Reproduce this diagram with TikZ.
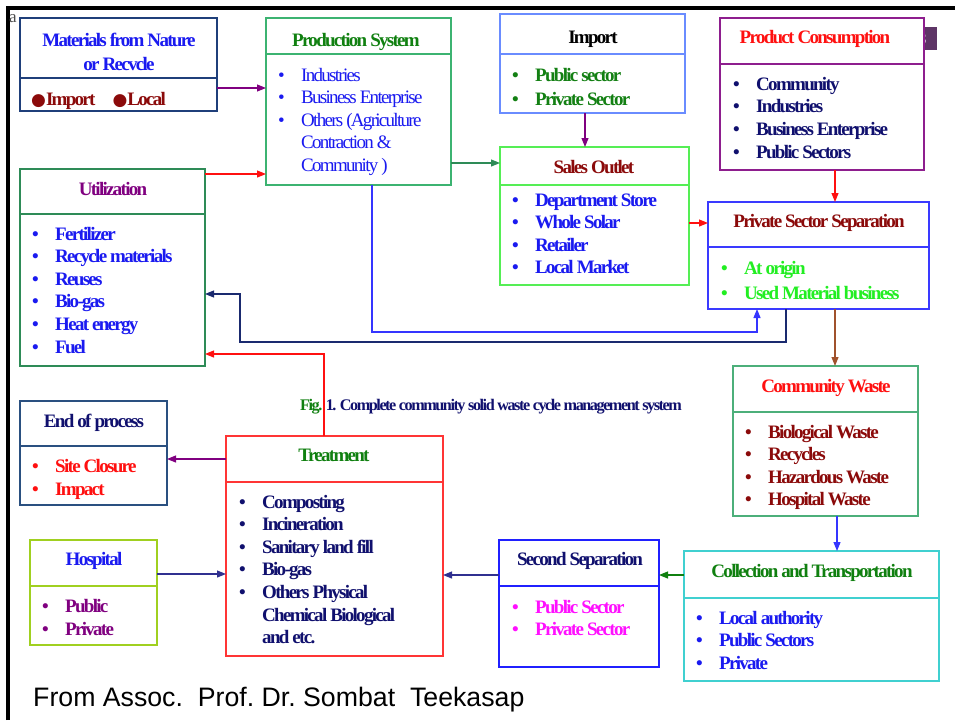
\documentclass[tikz,border=0pt]{standalone}
\usepackage{fontspec}
\setmainfont{Liberation Serif}[LetterSpace=-9]
\newfontfamily\arialf{Liberation Sans}
\newfontfamily\djv{DejaVu Sans}
\usetikzlibrary{arrows.meta}
\definecolor{cMat}{HTML}{1F3F7A}
\definecolor{cBlue}{HTML}{1A1AF0}
\definecolor{cDRed}{HTML}{8B0A0A}
\definecolor{cPurple}{HTML}{800080}
\definecolor{cProd}{HTML}{3CB371}
\definecolor{cDGreen}{HTML}{108010}
\definecolor{cImp}{HTML}{6A8CFF}
\definecolor{cGreen}{HTML}{138013}
\definecolor{cSal}{HTML}{55EE55}
\definecolor{cPC}{HTML}{8E1E8E}
\definecolor{cNavy}{HTML}{10106E}
\definecolor{cPSS}{HTML}{3A3AFF}
\definecolor{cLGreen}{HTML}{22EE22}
\definecolor{cUti}{HTML}{2E8B57}
\definecolor{cCW}{HTML}{4CAF7A}
\definecolor{cCol}{HTML}{40D0D0}
\definecolor{cSS}{HTML}{2020FF}
\definecolor{cMag}{HTML}{FF10FF}
\definecolor{cTre}{HTML}{FF3535}
\definecolor{cEop}{HTML}{2A5080}
\definecolor{cHos}{HTML}{A0D020}
\definecolor{cSlide}{HTML}{5E3566}
\definecolor{cRed}{HTML}{FF1010}
\definecolor{cArrNavy}{HTML}{303090}
\definecolor{cBrown}{HTML}{A0522D}
\definecolor{cArrBlue}{HTML}{3535FF}
\definecolor{cNavyLine}{HTML}{1A2A6F}
\definecolor{cSeaArr}{HTML}{2E8B57}
\tikzset{
  hdr/.style={draw=#1, line width=1.2pt, anchor=north west, inner sep=0pt, outer sep=0pt, fill=white},
  ttl/.style={anchor=base, inner sep=0pt, font=\fontsize{19}{23}\selectfont\bfseries},
  itm/.style={anchor=base west, inner sep=0pt, font=\fontsize{19}{22}\selectfont\bfseries},
  arr/.style={line width=1.1pt, -{Triangle[length=9pt,width=7pt]}},
}
\newcommand\bl{\makebox[23pt][l]{\textbullet}}
\newcommand\nb{\hspace*{23pt}}
\newcommand\boxx[7]{%
  \node[hdr=#2, minimum width={#5-#3}, minimum height={#6-#4}] (#1-h) at (#3,#4) {};
  \node[hdr=#2, minimum width={#5-#3}, minimum height={#7-#6}] (#1) at (#3,#6) {};}
\newcommand\itemlist[6][]{%
  \foreach \t [count=\i] in {#6}{\node[itm,#1] (#2-\i) at (#3,{#4+(\i-1)*#5}) {\t};}}
\begin{document}
\begin{tikzpicture}[x=1pt,y=-1pt]
\useasboundingbox (0,0) rectangle (955,720);
\fill[white] (0,0) rectangle (955,720);
% frame
\draw[line width=3.5pt] (8,720) -- (8,8) -- (955,8);
\node[anchor=base west, inner sep=0pt, text=black!70, font=\fontsize{17}{17}\selectfont\addfontfeature{LetterSpace=0}] (a) at (9,22) {a};
% slide number tab
\fill[cSlide] (917,27) rectangle (937,50);
\node[inner sep=0pt, text=white, font=\arialf\fontsize{16}{16}\selectfont] (slide) at (922,38.5) {3};
% boxes
\boxx{mat}{cMat}{20}{18}{217}{78}{111}
\boxx{prod}{cProd}{266}{18}{451}{54}{185}
\boxx{imp}{cImp}{500}{14}{685}{54}{113}
\boxx{sal}{cSal}{500}{147}{689}{185}{285}
\boxx{pc}{cPC}{720}{18}{924}{64}{170}
\boxx{pss}{cPSS}{708}{202}{929}{247}{309}
\boxx{uti}{cUti}{20}{169}{205}{214}{366}
\boxx{cw}{cCW}{733}{366}{918}{412}{516}
\boxx{col}{cCol}{684}{551}{939}{598}{681}
\boxx{ss}{cSS}{499}{540}{659}{586}{667}
\boxx{tre}{cTre}{226}{436}{443}{482}{656}
\boxx{eop}{cEop}{20}{401}{167}{446}{505}
\boxx{hos}{cHos}{30}{540}{157}{586}{645}
% titles
\node[ttl, text=cBlue] (mat-t1) at (119,46) {Materials from Nature};
\node[ttl, text=cBlue] (mat-t2) at (119,70) {or Recvcle};
\node[ttl, text=cDGreen] (prod-t) at (356,46) {Production System};
\node[ttl, text=black] (imp-t) at (593,43) {Import};
\node[ttl, text=cDRed] (sal-t) at (594,173) {Sales Outlet};
\node[ttl, text=cRed] (pc-t) at (815,43) {Product Consumption};
\node[ttl, text=cDRed] (pss-t) at (819,227) {Private Sector Separation};
\node[ttl, text=cPurple] (uti-t) at (113,195) {Utilization};
\node[ttl, text=cRed] (cw-t) at (826,392) {Community Waste};
\node[ttl, text=cDGreen] (col-t) at (812,577) {Collection and Transportation};
\node[ttl, text=cNavy] (ss-t) at (580,565) {Second Separation};
\node[ttl, text=cDGreen] (tre-t) at (334,461) {Treatment};
\node[ttl, text=cNavy] (eop-t) at (94,427) {End of process};
\node[ttl, text=cBlue] (hos-t) at (94,565) {Hospital};
% items
\node[itm, text=cDRed] (mat-1) at (31,105) {{\djv\fontsize{17}{17}\selectfont ●}Import\hspace{17pt}{\djv\fontsize{17}{17}\selectfont ●}Local};
\itemlist[text=cBlue,font=\fontsize{19}{22}\selectfont]{prod}{278}{81}{22.5}{\bl Industries,\bl Business Enterprise,\bl Others (Agriculture,\nb Contraction \&,\nb Community )}
\itemlist[text=cGreen]{imp}{512}{81}{24.7}{\bl Public sector,\bl Private Sector}
\itemlist[text=cBlue]{sal}{512}{206}{22.6}{\bl Department Store,\bl Whole Solar,\bl Retailer,\bl Local Market}
\itemlist[text=cNavy]{pc}{733}{90}{22.7}{\bl Community,\bl Industries,\bl Business Enterprise,\bl Public Sectors}
\itemlist[text=cLGreen]{pss}{721}{274}{25}{\bl At origin,\bl Used Material business}
\itemlist[text=cBlue]{uti}{32}{240}{22.6}{\bl Fertilizer,\bl Recycle materials,\bl Reuses,\bl Bio-gas,\bl Heat energy,\bl Fuel}
\itemlist[text=cDRed]{cw}{745}{438}{22.6}{\bl Biological Waste,\bl Recycles,\bl Hazardous Waste,\bl Hospital Waste}
\itemlist[text=cBlue]{col}{696}{624}{22.6}{\bl Local authority,\bl Public Sectors,\bl Private}
\itemlist[text=cMag]{ss}{512}{613}{22}{\bl Public Sector,\bl Private Sector}
\itemlist[text=cNavy]{tre}{239}{508}{22.6}{\bl Composting,\bl Incineration,\bl Sanitary land fill,\bl Bio-gas,\bl Others Physical,\nb Chemical Biological,\nb and etc.}
\itemlist[text=cRed]{eop}{32}{472}{23}{\bl Site Closure,\bl Impact}
\itemlist[text=cPurple]{hos}{42}{612}{23}{\bl Public,\bl Private}
% caption
\node[anchor=base west, inner sep=0pt, font=\fontsize{16.2}{16}\selectfont\bfseries] (cap) at (300,410) {\textcolor{cDGreen}{Fig.} \textcolor{cNavy}{1. Complete community solid waste cycle management system}};
% footer
\node[anchor=base west, inner sep=0pt, font=\arialf\fontsize{26.7}{27}\selectfont\frenchspacing] (foot) at (33,706) {From Assoc.\ \ Prof. Dr. Sombat\ \ Teekasap};
% connectors
\draw[arr, cPurple] (mat.east |- 0,88) -- (prod.west |- 0,88);
\draw[arr, cRed] (uti-h.east |- 0,174) -- (prod.west |- 0,174);
\draw[arr, cSeaArr] (prod.east |- 0,163) -- (sal-h.west |- 0,163);
\draw[arr, cPurple] (imp.south -| 585,0) -- (sal-h.north -| 585,0);
\draw[arr, cRed] (pc.south -| 835,0) -- (pss-h.north -| 835,0);
\draw[arr, cRed] (sal.east |- 0,223) -- (pss-h.west |- 0,223);
\draw[arr, cArrBlue] (prod.south -| 372,0) |- (757,332) -- (pss.south -| 757,0);
\draw[arr, cNavyLine] (pss.south -| 786,0) |- (240,342) |- (uti.east |- 0,294);
\draw[arr, cRed] (tre-h.north -| 324,0) |- (uti.east |- 0,354);
\draw[arr, cBrown] (pss.south -| 835,0) -- (cw-h.north -| 835,0);
\draw[arr, cArrBlue] (cw.south -| 837,0) -- (col-h.north -| 837,0);
\draw[arr, cDGreen] (col-h.west |- 0,575) -- (ss-h.east |- 0,575);
\draw[arr, cArrNavy] (ss-h.west |- 0,575) -- (tre.east |- 0,575);
\draw[arr, cPurple] (tre-h.west |- 0,459) -- (eop.east |- 0,459);
\draw[arr, cArrNavy] (hos-h.east |- 0,574) -- (tre.west |- 0,574);
\end{tikzpicture}
\end{document}
